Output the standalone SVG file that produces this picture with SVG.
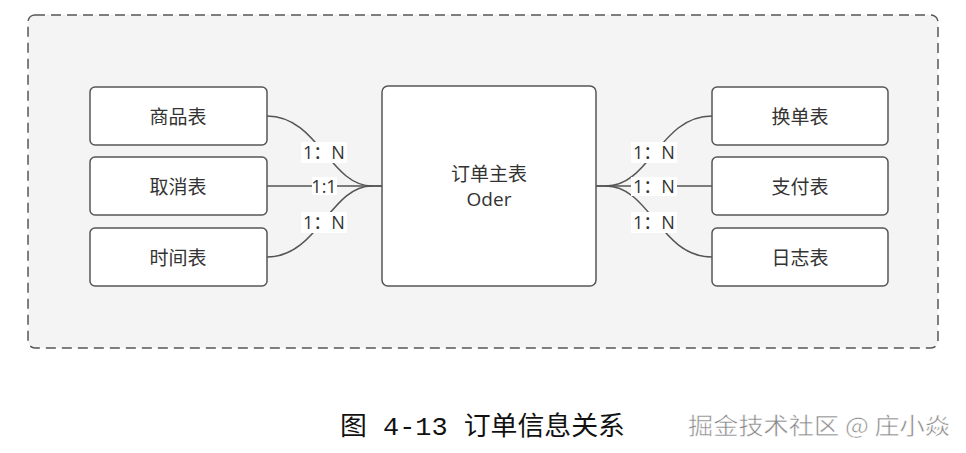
<svg xmlns="http://www.w3.org/2000/svg" width="966" height="453" viewBox="0 0 966 453">
<style>
.box{fill:#fff;stroke:#555;stroke-width:1.5}
.t{font-family:"Open Sans","Noto Sans CJK SC",sans-serif;font-size:19px;fill:#333;text-anchor:middle;dominant-baseline:central}
.lbl{font-family:"Open Sans","Noto Sans CJK SC",sans-serif;font-size:18px;fill:#333;text-anchor:middle;dominant-baseline:central}
.lb{fill:#fff}
.c{fill:none;stroke:#555;stroke-width:1.5}
</style>
<rect width="966" height="453" fill="#fff"/>
<rect x="28" y="15" width="910" height="333" rx="7" fill="#f4f4f4" stroke="#555" stroke-width="1.5" stroke-dasharray="10,6"/>
<g id="connectors">
<path class="c" d="M267,116 C318,116 330,186 372,186 L382,186"/>
<path class="c" d="M267,186 L382,186"/>
<path class="c" d="M267,257 C318,257 330,186 372,186"/>
<path class="c" d="M712,116 C660,116 650,186 606,186 L596,186"/>
<path class="c" d="M712,186 L596,186"/>
<path class="c" d="M712,257 C660,257 650,186 606,186"/>
<rect class="lb" x="301" y="142" width="46" height="21"/>
<text class="lbl" x="324" y="152">1：N</text>
<rect class="lb" x="312" y="177" width="25" height="18"/>
<text class="lbl" x="324" y="186">1:1</text>
<rect class="lb" x="301" y="212" width="46" height="21"/>
<text class="lbl" x="324" y="222">1：N</text>
<rect class="lb" x="631" y="142" width="46" height="21"/>
<text class="lbl" x="654" y="152">1：N</text>
<rect class="lb" x="631" y="177" width="46" height="19"/>
<text class="lbl" x="654" y="186">1：N</text>
<rect class="lb" x="631" y="212" width="46" height="21"/>
<text class="lbl" x="654" y="222">1：N</text>
</g>
<g id="n1"><rect class="box" x="90" y="87" width="177" height="58" rx="5"/><text class="t" x="178" y="117">商品表</text></g>
<g id="n2"><rect class="box" x="90" y="157" width="177" height="58" rx="5"/><text class="t" x="178" y="187">取消表</text></g>
<g id="n3"><rect class="box" x="90" y="228" width="177" height="58" rx="5"/><text class="t" x="178" y="258">时间表</text></g>
<g id="center"><rect class="box" x="382" y="86" width="214" height="200" rx="6"/><text class="t" x="489" y="174">订单主表</text><text class="t" x="489" y="199">Oder</text></g>
<g id="n4"><rect class="box" x="712" y="87" width="176" height="58" rx="5"/><text class="t" x="800" y="117">换单表</text></g>
<g id="n5"><rect class="box" x="712" y="157" width="176" height="58" rx="5"/><text class="t" x="800" y="187">支付表</text></g>
<g id="n6"><rect class="box" x="712" y="228" width="176" height="58" rx="5"/><text class="t" x="800" y="258">日志表</text></g>
<text x="340" y="435" font-family="'Liberation Mono','Noto Sans CJK SC',monospace" font-size="26" fill="#111" textLength="285" lengthAdjust="spacingAndGlyphs">图 4-13 订单信息关系</text>
<text x="688" y="434" font-family="'Noto Sans CJK SC',sans-serif" font-size="23" fill="#888" stroke="#fff" stroke-width="0.5" textLength="262" lengthAdjust="spacingAndGlyphs">掘金技术社区 @ 庄小焱</text>
</svg>
